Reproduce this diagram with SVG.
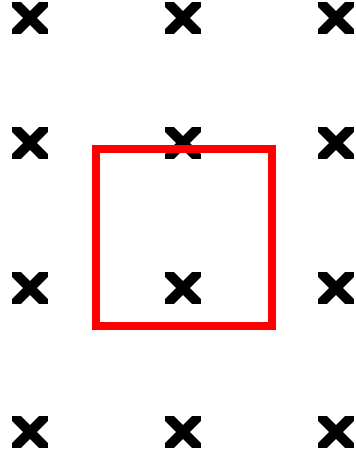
<svg xmlns="http://www.w3.org/2000/svg" xmlns:xlink="http://www.w3.org/1999/xlink" width="356" height="464" viewBox="0 0 356 464">
<style>
.mk{fill:#000}
.box{fill:none;stroke:#ff0000;stroke-width:8}
</style>
<defs>
<path id="x" class="mk" d="M-18,-16 L-9,-16 L18,11 L18,16 L9,16 L-18,-11 Z M18,-16 L18,-11 L-9,16 L-18,16 L-18,11 L9,-16 Z"/>
</defs>
<rect width="356" height="464" fill="#fff"/>
<g id="markers">
<use xlink:href="#x" x="30" y="18"/>
<use xlink:href="#x" x="183" y="18"/>
<use xlink:href="#x" x="336" y="18"/>
<use xlink:href="#x" x="30" y="143"/>
<use xlink:href="#x" x="183" y="143"/>
<use xlink:href="#x" x="336" y="143"/>
<use xlink:href="#x" x="30" y="288"/>
<use xlink:href="#x" x="183" y="288"/>
<use xlink:href="#x" x="336" y="288"/>
<use xlink:href="#x" x="30" y="432"/>
<use xlink:href="#x" x="183" y="432"/>
<use xlink:href="#x" x="336" y="432"/>
</g>
<g id="box">
<rect class="box" x="96" y="149" width="176" height="177"/>
</g>
</svg>
